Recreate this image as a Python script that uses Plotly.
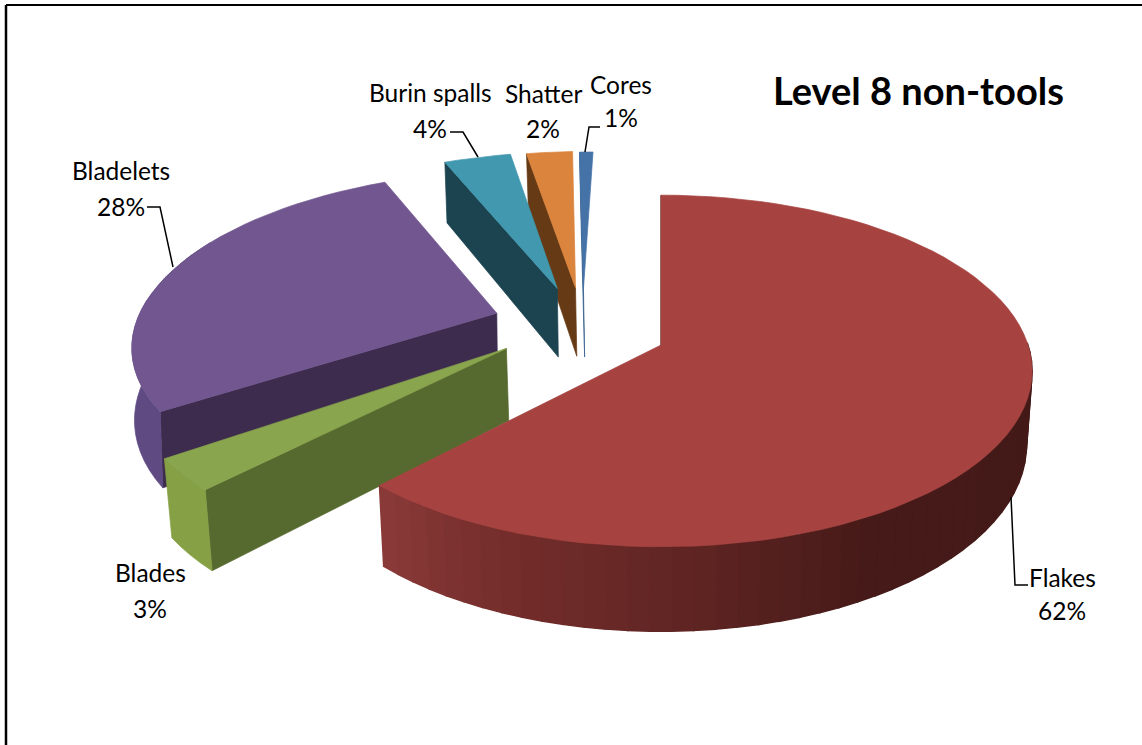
import numpy as np
import plotly.graph_objects as go

# --- data -------------------------------------------------------------
categories = ["Flakes", "Blades", "Bladelets", "Burin spalls", "Shatter", "Cores"]
shares = [62.0, 3.1, 28.1, 3.7, 2.4, 0.7]
share_labels = ["62%", "3%", "28%", "4%", "2%", "1%"]
chart_title = "Level 8 non-tools"

# --- styling ----------------------------------------------------------
top_colors = ["#a64340", "#89a54e", "#71568f", "#4198af", "#db843d", "#4572a7"]
wall_colors = ["#451a18", "#566a2f", "#3d2c4e", "#1b4450", "#653a14", "#2f5a8a"]
rim_colors = [None, "#86a045", "#5f4a82", "#2f7286", "#a8642c", "#2f5a8a"]
explode = [(0, 0), (-0.42, 0.02), (-0.46, -0.19), (-0.297, -0.345), (-0.245, -0.35), (-0.222, -0.345)]
start_trim = [0, 0, 1.8, 0.8, 0, 0]   # degrees: perspective correction of the drawn start edge
taper = [0.985, 0.985, 0.995, 0.99, 0.985, 0.985]

W, H = 1142, 745
CX, CY = 661, 345
B, A, K = 367, 172, 0.1477   # projection of the pie's disc
THICK = 72
FONT = "Lato"
FS = 24.5


def project(gx, gy):
    w = 1 - K * np.asarray(gy)
    return B * np.asarray(gx) / w, A * np.asarray(gy) / w, w


def top_pt(gx, gy):
    x, y, _ = project(gx, gy)
    return CX + x, CY + y


def bot_pt(gx, gy, t):
    x, y, w = project(gx, gy)
    return CX + x * t, CY + y + THICK / w


def blend(c1, c2, t):
    a = [int(c1[i:i + 2], 16) for i in (1, 3, 5)]
    b = [int(c2[i:i + 2], 16) for i in (1, 3, 5)]
    return "rgb(%d,%d,%d)" % tuple(round(p + (q - p) * t) for p, q in zip(a, b))


def red_rim(deg):
    stops = [(60, "#431917"), (150, "#451a18"), (175, "#5e2422"), (205, "#772f2d"), (224, "#8c3b39")]
    for (d0, c0), (d1, c1) in zip(stops, stops[1:]):
        if deg <= d1:
            return blend(c0, c1, max(0, (deg - d0) / (d1 - d0)))
    return stops[-1][1]


fig = go.Figure()


def poly(xs, ys, color, lw=0.7):
    xs, ys = list(xs), list(ys)
    fig.add_trace(go.Scatter(
        x=xs + [xs[0]], y=ys + [ys[0]], mode="lines", fill="toself",
        fillcolor=color, line=dict(color=color, width=lw), hoverinfo="skip", showlegend=False))


edges = np.concatenate([[0], np.cumsum(shares)]) / np.sum(shares) * 360
draw_order = [5, 4, 3, 2, 1, 0]

for i in draw_order:
    a0, a1 = edges[i] + start_trim[i], edges[i + 1]
    ox, oy = explode[i]
    th = np.radians(np.linspace(a0, a1, max(4, int((a1 - a0) / 3) + 2)))
    gx = ox + np.sin(th)
    gy = oy - np.cos(th)

    # start radial wall
    wx = np.array([ox, gx[0]])
    wy = np.array([oy, gy[0]])
    tx, ty = top_pt(wx, wy)
    bx, by = bot_pt(wx, wy, taper[i])
    poly([tx[0], tx[1], bx[1], bx[0]], [ty[0], ty[1], by[1], by[0]], wall_colors[i])

    # rim wall
    tx, ty = top_pt(gx, gy)
    bx, by = bot_pt(gx, gy, taper[i])
    degs = np.degrees(th)
    if rim_colors[i] is None:
        front = np.cos(th) <= 0.05
        for j in range(len(th) - 1):
            if front[j] and front[j + 1]:
                col = red_rim((degs[j] + degs[j + 1]) / 2)
                poly([tx[j], tx[j + 1], bx[j + 1], bx[j]], [ty[j], ty[j + 1], by[j + 1], by[j]], col, lw=1.5)
    else:
        front = np.cos(th) <= 0.5
        if front.any():
            poly(list(tx[front]) + list(bx[front][::-1]), list(ty[front]) + list(by[front][::-1]), rim_colors[i])

    # top face
    ax, ay = top_pt(ox, oy)
    poly([float(ax)] + list(tx), [float(ay)] + list(ty), top_colors[i])

# leader lines
leaders = [
    ([1011, 1015, 1028], [497, 585, 585]),
    ([147, 160, 173], [207, 207, 267]),
    ([450, 463, 478], [132, 132, 157]),
    ([600, 589, 585], [127, 127, 152]),
]
for xs, ys in leaders:
    fig.add_trace(go.Scatter(x=xs, y=ys, mode="lines", line=dict(color="black", width=1.5),
                             hoverinfo="skip", showlegend=False))

# labels
label_pos = [(1062, 577, 610), (150, 572, 608), (121, 170, 206), (430, 92, 128), (543, 93, 128), (621, 84, 117)]
for name, pct, (x, y1, y2) in zip(categories, share_labels, label_pos):
    fig.add_annotation(x=x, y=y1, text=name, showarrow=False, font=dict(family=FONT, size=FS, color="black"))
    fig.add_annotation(x=x, y=y2, text=pct, showarrow=False, font=dict(family=FONT, size=FS, color="black"))
fig.add_annotation(x=918, y=90, text="<b>" + chart_title + "</b>", showarrow=False,
                   font=dict(family=FONT, size=38, color="black"))

# frame
fig.add_shape(type="line", x0=6, x1=W, y0=5, y1=5, line=dict(color="black", width=2))
fig.add_shape(type="line", x0=6, x1=6, y0=5, y1=H, line=dict(color="black", width=2.5))

fig.update_xaxes(range=[0, W], visible=False, fixedrange=True)
fig.update_yaxes(range=[H, 0], visible=False, fixedrange=True)
fig.update_layout(width=W, height=H, margin=dict(l=0, r=0, t=0, b=0),
                  paper_bgcolor="white", plot_bgcolor="white", showlegend=False)
fig.write_html("out.html", config={"displayModeBar": False},
               post_script="document.body.style.margin='0';")
